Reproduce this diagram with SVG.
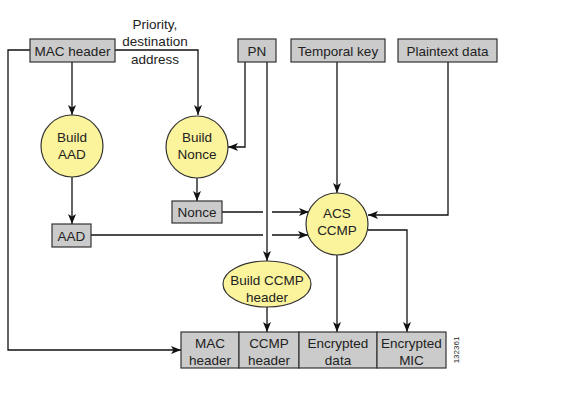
<svg xmlns="http://www.w3.org/2000/svg" width="576" height="414" viewBox="0 0 576 414">
<defs>
<marker id="ah" markerWidth="10" markerHeight="8" refX="10" refY="4" orient="auto" markerUnits="userSpaceOnUse">
<path d="M0,0 L10,4 L0,8 L2.5,4 Z" fill="#111"/>
</marker>
<style>
.box{fill:#cbcbcb;stroke:#333;stroke-width:1.2}
.proc{fill:#fbf49c;stroke:#333;stroke-width:1.2}
.t{font-family:"Liberation Sans",Arial,sans-serif;font-size:13.5px;fill:#222;text-anchor:middle}
.c{fill:none;stroke:#111;stroke-width:1.3}
.a{fill:none;stroke:#111;stroke-width:1.3;marker-end:url(#ah)}
</style>
</defs>
<rect width="576" height="414" fill="#fff"/>
<g id="connectors">
<polyline class="a" points="30,50 8,50 8,350 181,350"/>
<line class="a" x1="72" y1="62" x2="72" y2="115"/>
<polyline class="a" points="115,50 198,50 198,115"/>
<polyline class="a" points="245,62 245,147 228,147"/>
<line class="a" x1="267" y1="62" x2="267" y2="261"/>
<line class="a" x1="337" y1="62" x2="337" y2="193"/>
<polyline class="a" points="448,62 448,215 368,215"/>
<line class="a" x1="72" y1="177" x2="72" y2="224"/>
<line class="a" x1="197" y1="178" x2="197" y2="201"/>
<line class="c" x1="222" y1="212" x2="263" y2="212"/>
<line class="a" x1="272" y1="212" x2="309" y2="212"/>
<line class="c" x1="91" y1="235" x2="263" y2="235"/>
<line class="a" x1="272" y1="235" x2="308" y2="235"/>
<line class="a" x1="337" y1="255" x2="337" y2="332"/>
<polyline class="a" points="368,230 407,230 407,332"/>
<line class="a" x1="267" y1="307" x2="267" y2="332"/>
</g>
<text class="t" x="155" y="29">Priority,</text>
<text class="t" x="155" y="46">destination</text>
<text class="t" x="155" y="64">address</text>
<g id="mac-header"><rect class="box" x="30" y="39" width="85" height="23"/><text class="t" x="72.5" y="56">MAC header</text></g>
<g id="pn"><rect class="box" x="238" y="39" width="38" height="23"/><text class="t" x="257" y="56">PN</text></g>
<g id="temporal-key"><rect class="box" x="291" y="39" width="94" height="23"/><text class="t" x="338" y="56">Temporal key</text></g>
<g id="plaintext-data"><rect class="box" x="398" y="39" width="99" height="23"/><text class="t" x="447.5" y="56">Plaintext data</text></g>
<g id="build-aad"><circle class="proc" cx="72" cy="146" r="31"/><text class="t" x="72" y="142">Build</text><text class="t" x="72" y="159">AAD</text></g>
<g id="build-nonce"><circle class="proc" cx="197" cy="147" r="31"/><text class="t" x="197" y="142">Build</text><text class="t" x="197" y="159">Nonce</text></g>
<g id="nonce"><rect class="box" x="172" y="201" width="50" height="22"/><text class="t" x="197" y="217">Nonce</text></g>
<g id="aad"><rect class="box" x="52" y="224" width="39" height="23"/><text class="t" x="71.5" y="241">AAD</text></g>
<g id="acs-ccmp"><circle class="proc" cx="337" cy="224" r="31"/><text class="t" x="337" y="218">ACS</text><text class="t" x="337" y="235">CCMP</text></g>
<g id="build-ccmp-header"><ellipse class="proc" cx="267" cy="284" rx="44" ry="23"/><text class="t" x="267" y="285">Build CCMP</text><text class="t" x="267" y="302">header</text></g>
<g id="output-frame">
<rect class="box" x="181" y="332" width="58" height="36"/><text class="t" x="210" y="348">MAC</text><text class="t" x="210" y="365">header</text>
<rect class="box" x="239" y="332" width="60" height="36"/><text class="t" x="269" y="348">CCMP</text><text class="t" x="269" y="365">header</text>
<rect class="box" x="299" y="332" width="78" height="36"/><text class="t" x="338" y="348">Encrypted</text><text class="t" x="338" y="365">data</text>
<rect class="box" x="377" y="332" width="69" height="36"/><text class="t" x="411.5" y="348">Encrypted</text><text class="t" x="411.5" y="365">MIC</text>
</g>
<text class="t" style="font-size:8px" transform="translate(459,350) rotate(-90)">132361</text>
</svg>
